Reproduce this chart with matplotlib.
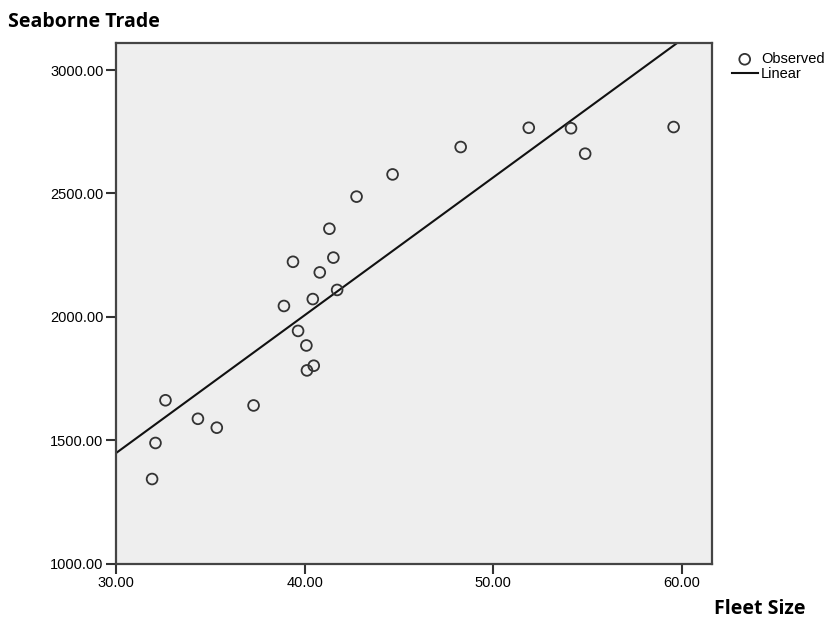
import numpy as np
import matplotlib
matplotlib.use("Agg")
import matplotlib.pyplot as plt

# observed points
fleet_size = [31.91, 32.09, 32.62, 34.34, 35.34, 37.29, 38.90, 39.38, 39.65,
              40.09, 40.12, 40.43, 40.48, 40.80, 41.31, 41.52, 41.72, 42.75,
              44.66, 48.27, 51.88, 54.12, 54.87, 59.56]
seaborne_trade = [1343, 1489, 1662, 1587, 1551, 1641, 2044, 2223, 1943,
                  1884, 1783, 2072, 1802, 2180, 2357, 2240, 2109, 2487,
                  2577, 2688, 2766, 2764, 2661, 2769]

x_ticks = [30, 40, 50, 60]
y_ticks = [1000, 1500, 2000, 2500, 3000]

plt.rcParams["font.family"] = ["Liberation Sans", "DejaVu Sans"]

fig = plt.figure(figsize=(8.29, 6.21), dpi=100)
ax = fig.add_axes([0.14, 0.0923, 0.719, 0.8379])
ax.set_facecolor("#eeeeee")

x = np.array(fleet_size)
y = np.array(seaborne_trade)
slope, icpt = np.polyfit(x, y, 1)   # the "Linear" fit
xs = np.array([30, 62])

ax.scatter(x, y, s=60, facecolors="none", edgecolors="#333333", linewidths=1.3,
           label="Observed", zorder=3)
ax.plot(xs, icpt + slope * xs, color="#111111", lw=1.5, label="Linear", zorder=2)

ax.set_xlim(30, 61.6)
ax.set_ylim(1000, 3108)
ax.set_xticks(x_ticks)
ax.set_yticks(y_ticks)
ax.set_xticklabels([f"{v:.2f}" for v in x_ticks], fontsize=10.5)
ax.set_yticklabels([f"{v:.2f}" for v in y_ticks], fontsize=10.5)
ax.tick_params(direction="out", length=7, width=1.5, color="#333333", pad=2)
for s in ax.spines.values():
    s.set_color("#444444")
    s.set_linewidth(1.6)

fig.text(0.01, 0.965, "Seaborne Trade", fontsize=14, fontweight="bold",
         family="Open Sans", va="center")
fig.text(0.972, 0.02, "Fleet Size", fontsize=14, fontweight="bold",
         family="Open Sans", ha="right", va="center")

ax.legend(loc="upper left", bbox_to_anchor=(1.018, 1.0), frameon=False,
          fontsize=10.5, handlelength=1.8, handletextpad=0.2, labelspacing=0.05,
          borderaxespad=0.2)

fig.savefig("out.png", dpi=100)
